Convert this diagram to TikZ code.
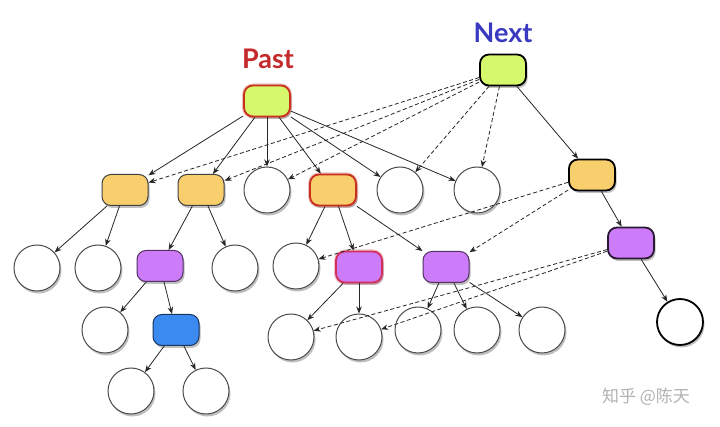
\documentclass[tikz,border=0pt]{standalone}
\usepackage{fontspec}
\setmainfont{Lato}
\newfontfamily\cjk{Noto Sans CJK SC}
\usetikzlibrary{arrows.meta,shadows}
\definecolor{lime}{HTML}{D6F86C}
\definecolor{orng}{HTML}{F8CF6C}
\definecolor{purp}{HTML}{CC7CF8}
\definecolor{blu}{HTML}{3A8AF0}
\definecolor{redb}{HTML}{C8301E}
\definecolor{pinkb}{HTML}{D0305A}
\definecolor{pastc}{HTML}{C42A2C}
\definecolor{nextc}{HTML}{3A3AC0}
\begin{document}
\begin{tikzpicture}[x=1pt,y=-1pt,
  shad/.style={drop shadow={opacity=0.5,shadow xshift=1.5pt,shadow yshift=-2.5pt}},
  box/.style={shad,draw=black!75,line width=1pt,rounded corners=9pt,minimum width=46pt,minimum height=31pt,inner sep=0pt},
  circ/.style={shad,circle,draw=black!70,line width=1pt,fill=white,minimum size=46pt,inner sep=0pt},
  hot/.style={draw=redb,line width=1.8pt,preaction={draw=redb,opacity=0.3,line width=4pt}},
  strong/.style={draw=black,line width=1.8pt},
  edge/.style={draw=black!85,line width=0.8pt,-{Stealth[length=7pt,width=5.5pt]}},
  dedge/.style={edge,dash pattern=on 4pt off 2.5pt},
  lbl/.style={font=\fontsize{27}{27}\selectfont\bfseries}]
\fill[white] (0,0) rectangle (720,427);
\useasboundingbox (0,0) rectangle (720,427);
% labels
\node[lbl,text=pastc] (pastl) at (268,59) {Past};
\node[lbl,text=nextc] (nextl) at (503,33) {Next};
\node[text=black!30,font=\cjk\fontsize{17}{17}\selectfont] (wm) at (646,397) {知乎 @陈天};
% top
\node[box,fill=lime,hot] (past) at (267,101) {};
\node[box,fill=lime,strong] (next) at (503,70) {};
% row 1
\node[box,fill=orng] (a1) at (125,190) {};
\node[box,fill=orng] (a2) at (201,190) {};
\node[circ] (c1) at (267,190) {};
\node[box,fill=orng,hot] (a3) at (333,190) {};
\node[circ] (c2) at (400,190) {};
\node[circ] (c3) at (477,190) {};
\node[box,fill=orng,strong] (r1) at (592,175) {};
% row 2
\node[circ] (d1) at (37,268) {};
\node[circ] (d2) at (98,268) {};
\node[box,fill=purp,draw=purp!40!black] (p1) at (160,266) {};
\node[circ] (d3) at (235,268) {};
\node[circ] (d4) at (296,266) {};
\node[box,fill=purp,draw=pinkb,line width=1.8pt,preaction={draw=pinkb,opacity=0.3,line width=4pt}] (p2) at (359,267) {};
\node[box,fill=purp,draw=purp!40!black] (p3) at (446,267) {};
\node[box,fill=purp,draw=purp!20!black,line width=1.8pt] (r2) at (631,243) {};
% row 3
\node[circ] (e1) at (105,330) {};
\node[box,fill=blu,draw=blu!40!black] (b1) at (176,330) {};
\node[circ] (e2) at (291,337) {};
\node[circ] (e3) at (359,337) {};
\node[circ] (e4) at (418,330) {};
\node[circ] (e5) at (477,330) {};
\node[circ] (e6) at (542,330) {};
\node[circ,draw=black,line width=1.8pt] (r3) at (680,322) {};
% row 4
\node[circ] (f1) at (131,391) {};
\node[circ] (f2) at (206,391) {};
% solid edges
\foreach \t in {a1,a2,c1,a3,c2,c3} \draw[edge] (past) -- (\t);
\draw[edge] (next) -- (r1);
\draw[edge] (r1) -- (r2);
\draw[edge] (r2) -- (r3);
\draw[edge] (a1) -- (d1);
\draw[edge] (a1) -- (d2);
\draw[edge] (a2) -- (p1);
\draw[edge] (a2) -- (d3);
\draw[edge] (p1) -- (e1);
\draw[edge] (p1) -- (b1);
\draw[edge] (b1) -- (f1);
\draw[edge] (b1) -- (f2);
\draw[edge] (a3) -- (d4);
\draw[edge] (a3) -- (p2);
\draw[edge] (a3) -- (p3);
\draw[edge] (p2) -- (e2);
\draw[edge] (p2) -- (e3);
\draw[edge] (p3) -- (e4);
\draw[edge] (p3) -- (e5);
\draw[edge] (p3) -- (e6);
% dashed edges
\foreach \t in {a1,a2,c1,c2,c3} \draw[dedge] (next) -- (\t);
\draw[dedge] (r1) -- (d4);
\draw[dedge] (r1) -- (p3);
\draw[dedge] (r2) -- (e2);
\draw[dedge] (r2) -- (e3);
\end{tikzpicture}
\end{document}
